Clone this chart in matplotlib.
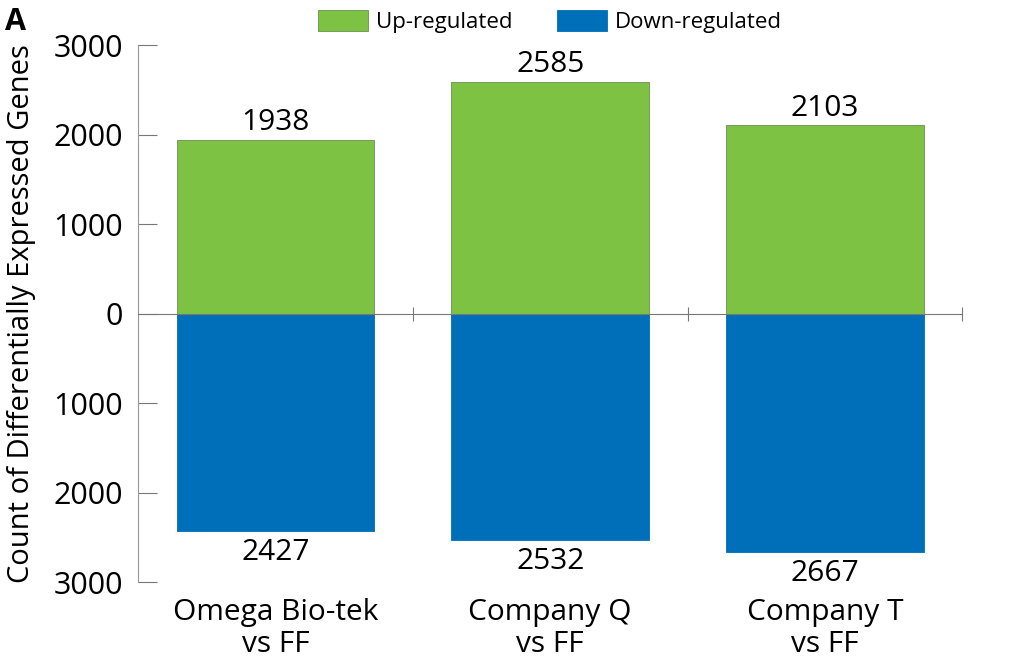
import matplotlib.pyplot as plt
import matplotlib.transforms as mtransforms

categories = ['Omega Bio-tek\nvs FF', 'Company Q\nvs FF', 'Company T\nvs FF']
up = [1938, 2585, 2103]
down = [2427, 2532, 2667]
yticks = [3000, 2000, 1000, 0, 1000, 2000, 3000]

green = '#7dc243'
blue = '#006fba'

plt.rcParams['font.family'] = ['Open Sans', 'DejaVu Sans']

fig = plt.figure(figsize=(10.24, 6.7), dpi=100)
ax = fig.add_axes([0.1348, 0.1313, 0.805, 0.8015])

x = [0.5, 1.5, 2.5]
ax.bar(x, up, width=0.72, color=green, edgecolor='#6a8f55', linewidth=0.6,
       label='Up-regulated', zorder=2)
ax.bar(x, [-d for d in down], width=0.72, color=blue, edgecolor=blue,
       linewidth=0.6, label='Down-regulated', zorder=2)

for xi, u, d in zip(x, up, down):
    ax.annotate(str(u), (xi, u), xytext=(0, 2), textcoords='offset points',
                ha='center', va='bottom', fontsize=21.5)
    ax.annotate(str(d), (xi, -d), xytext=(0, -5), textcoords='offset points',
                ha='center', va='top', fontsize=21.5)

trans = mtransforms.blended_transform_factory(ax.transData, ax.transAxes)
for xi, c in zip(x, categories):
    ax.text(xi, -0.03, c, transform=trans, ha='center', va='top',
            fontsize=21.5, linespacing=1.12)

ax.set_xlim(0, 3)
ax.set_ylim(-3000, 3000)
ax.set_yticks(range(3000, -3001, -1000))
ax.set_yticklabels([str(v) for v in yticks], fontsize=22)
ax.tick_params(axis='y', direction='in', length=14, width=0.8, color='#777777', pad=11)
ax.set_xticks([1, 2, 3])
ax.set_xticklabels([])
ax.tick_params(axis='x', direction='inout', length=10, width=0.8, color='#777777')

for s in ['top', 'right']:
    ax.spines[s].set_visible(False)
ax.spines['bottom'].set_position(('data', 0))
ax.spines['bottom'].set_color('#777777')
ax.spines['left'].set_color('#999999')
ax.spines['bottom'].set_zorder(3)

ax.set_ylabel('Count of Differentially Expressed Genes', fontsize=21)
ax.yaxis.set_label_coords(-0.124, 0.5)

ax.legend(loc='lower center', bbox_to_anchor=(0.5, 0.985), ncol=2, frameon=False,
          fontsize=16, handlelength=2.25, handleheight=1.12, columnspacing=2.0,
          handletextpad=0.36)

fig.text(0.005, 0.99, 'A', fontsize=22, fontweight='bold', ha='left', va='top')

fig.savefig('out.png', dpi=100)
